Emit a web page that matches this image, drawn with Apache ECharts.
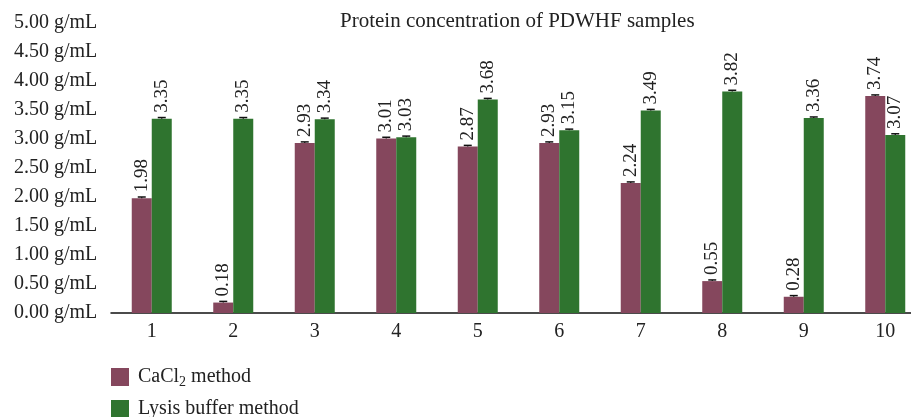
<!DOCTYPE html>
<html>
<head>
<meta charset="utf-8">
<script src="https://cdn.jsdelivr.net/npm/echarts@6/dist/echarts.min.js"></script>
<style>
html,body{margin:0;padding:0;background:#fff;}
#chart{width:911px;height:417px;}
</style>
</head>
<body>
<div id="chart"></div>
<script>
var categories = ['1','2','3','4','5','6','7','8','9','10'];
var cacl2Values = [1.98, 0.18, 2.93, 3.01, 2.87, 2.93, 2.24, 0.55, 0.28, 3.74];
var lysisValues = [3.35, 3.35, 3.34, 3.03, 3.68, 3.15, 3.49, 3.82, 3.36, 3.07];
var cacl2Errors = [0.02, 0.02, 0.02, 0.02, 0.02, 0.02, 0.02, 0.02, 0.02, 0.02];
var lysisErrors = [0.02, 0.02, 0.02, 0.02, 0.02, 0.02, 0.02, 0.02, 0.02, 0.02];
var yTicks = [0, 0.5, 1, 1.5, 2, 2.5, 3, 3.5, 4, 4.5, 5];

var SERIF = '"Liberation Serif", "DejaVu Serif", serif';
var colMaroon = '#85475D';
var colGreen = '#2F742F';
var BAR_W = 20;

function errData(vals, errs) {
  return vals.map(function (v, i) { return [i, v, errs[i]]; });
}

function errRender(offset) {
  return function (params, api) {
    var idx = api.value(0);
    var v = api.value(1);
    var e = api.value(2);
    var top = api.coord([idx, v + e]);
    var base = api.coord([idx, v]);
    var x = top[0] + offset;
    var half = 4;
    return {
      type: 'group',
      children: [
        { type: 'line', shape: { x1: x, y1: base[1], x2: x, y2: top[1] }, style: { stroke: '#111', lineWidth: 1.2 } },
        { type: 'line', shape: { x1: x - half, y1: top[1], x2: x + half, y2: top[1] }, style: { stroke: '#111', lineWidth: 1.5 } }
      ]
    };
  };
}

var labelCfg = {
  show: true,
  position: 'top',
  rotate: 90,
  align: 'left',
  verticalAlign: 'middle',
  distance: 6,
  fontFamily: SERIF,
  fontSize: 19,
  color: '#222',
  formatter: function (p) { return p.value.toFixed(2); }
};

var legendText = {
  fontFamily: SERIF, fontSize: 20, color: '#222', padding: [0, 0, 0, 4],
  rich: {
    n: { fontFamily: SERIF, fontSize: 20, color: '#222' },
    s: { fontFamily: SERIF, fontSize: 14, color: '#222', padding: [10, 0, 0, 0] }
  }
};

var chart = echarts.init(document.getElementById('chart'), null, { renderer: 'canvas' });
chart.setOption({
  animation: false,
  backgroundColor: '#fff',
  title: {
    text: 'Protein concentration of PDWHF samples',
    left: 340,
    top: 11,
    padding: 0,
    textStyle: { fontFamily: SERIF, fontSize: 21, fontWeight: 'normal', color: '#222' }
  },
  legend: [
    {
      left: 111, top: 367, padding: 0,
      itemWidth: 18, itemHeight: 18, icon: 'rect',
      data: ['CaCl2 method'],
      formatter: function () { return '{n|CaCl}{s|2}{n| method}'; },
      textStyle: legendText
    },
    {
      left: 111, top: 399, padding: 0,
      itemWidth: 18, itemHeight: 18, icon: 'rect',
      data: ['Lysis buffer method'],
      formatter: function (name) { return '{n|' + name + '}'; },
      textStyle: legendText
    }
  ],
  grid: { left: 111, width: 815, top: 23, bottom: 104, containLabel: false, outerBoundsMode: 'none' },
  xAxis: {
    type: 'category',
    data: categories,
    axisTick: { show: false },
    axisLine: { show: true, lineStyle: { color: '#111', width: 1.5 } },
    axisLabel: { margin: 9, fontFamily: SERIF, fontSize: 20, color: '#222' }
  },
  yAxis: {
    type: 'value',
    min: 0,
    max: 5,
    interval: 0.5,
    axisLine: { show: false },
    axisTick: { show: false },
    splitLine: { show: false },
    axisLabel: {
      align: 'left',
      margin: 97,
      fontFamily: SERIF,
      fontSize: 20,
      color: '#222',
      formatter: function (v) { return v.toFixed(2) + ' g/mL'; }
    }
  },
  series: [
    {
      name: 'CaCl2 method',
      type: 'bar',
      data: cacl2Values,
      barWidth: BAR_W,
      barGap: '0%',
      itemStyle: { color: colMaroon },
      label: labelCfg
    },
    {
      name: 'Lysis buffer method',
      type: 'bar',
      data: lysisValues,
      barWidth: BAR_W,
      barGap: '0%',
      itemStyle: { color: colGreen },
      label: labelCfg
    },
    {
      type: 'custom',
      renderItem: errRender(-BAR_W / 2),
      data: errData(cacl2Values, cacl2Errors),
      encode: { x: 0, y: 1 },
      z: 5,
      silent: true
    },
    {
      type: 'custom',
      renderItem: errRender(BAR_W / 2),
      data: errData(lysisValues, lysisErrors),
      encode: { x: 0, y: 1 },
      z: 5,
      silent: true
    }
  ]
});
</script>
</body>
</html>
